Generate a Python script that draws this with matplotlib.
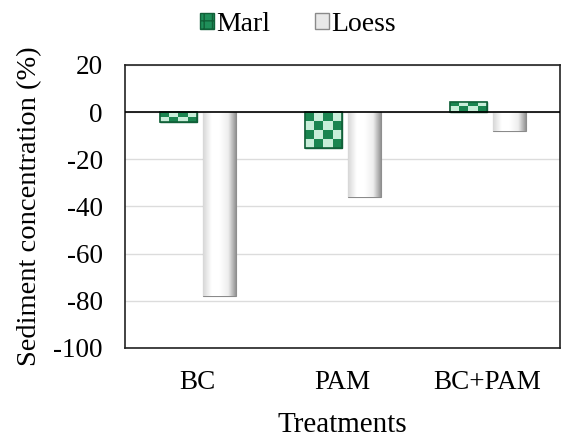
import numpy as np
import matplotlib
matplotlib.use('Agg')
import matplotlib.pyplot as plt
from matplotlib.patches import Rectangle
from matplotlib.colors import ListedColormap, LinearSegmentedColormap

plt.rcParams['font.family'] = ['Liberation Serif', 'DejaVu Serif']
plt.rcParams['axes.unicode_minus'] = False

treatments = ['BC', 'PAM', 'BC+PAM']
marl = [-4, -15, 4.5]
loess = [-78, -36, -8]
yticks = [20, 0, -20, -40, -60, -80, -100]

fig = plt.figure(figsize=(5.62, 4.43), dpi=100)
ax = fig.add_axes([125/562, 1-348/443, 435/562, 283/443])

x = np.arange(len(treatments))
b1 = ax.bar(x - 0.13, marl, 0.255, color='#1f8f5a', edgecolor='#106038', linewidth=1.0, zorder=3)
b2 = ax.bar(x + 0.15, loess, 0.23, color='white', edgecolor='#8a8a8a', linewidth=0.8, zorder=3)

# checker pattern on the marl bars (about 4 cells across)
cmap_chk = ListedColormap(['#1a8550', '#c8eed9'])
for r in b1:
    x0, y0 = r.get_x(), r.get_y()
    h, ww = r.get_height(), r.get_width()
    ny = max(2, int(round(abs(h) / 3.8)))
    chk = np.indices((ny, 4)).sum(axis=0) % 2
    im = ax.imshow(chk, cmap=cmap_chk, extent=[x0, x0 + ww, min(y0, y0 + h), max(y0, y0 + h)],
                   aspect='auto', zorder=3.5, interpolation='nearest')
    im.set_clip_path(r)
    ax.add_patch(Rectangle((x0, y0), ww, h, fill=False, edgecolor='#106038', linewidth=1.2, zorder=3.6))

# shaded look on the loess bars
grad = np.linspace(0, 1, 50)[None, :]
cmap_g = LinearSegmentedColormap.from_list('g', ['#d8d8d8', '#ffffff', '#ffffff', '#eeeeee', '#8c8c8c'])
for r in b2:
    x0, ww = r.get_x(), r.get_width()
    im = ax.imshow(grad, cmap=cmap_g, extent=[x0, x0 + ww, -100, 20], aspect='auto', zorder=3.5)
    im.set_clip_path(r)

ax.set_xlim(-0.5, 2.5)
ax.set_ylim(-100, 20)
ax.set_yticks(yticks)
ax.set_xticks(x)
ax.set_xticklabels(treatments)
ax.tick_params(length=0, labelsize=19.5)
ax.tick_params(axis='y', pad=16)
ax.tick_params(axis='x', pad=16)
ax.yaxis.grid(True, color='#dcdcdc', linewidth=1, zorder=0)
ax.set_axisbelow(True)
ax.axhline(0, color='black', linewidth=1.2, zorder=4)
for s in ax.spines.values():
    s.set_linewidth(1.2)
    s.set_color('#222222')

ax.set_ylabel('Sediment concentration (%)', fontsize=20.5, labelpad=8)
ax.set_xlabel('Treatments', fontsize=21, labelpad=12)

h1 = Rectangle((0, 0), 1, 1, facecolor='#1f8f5a', edgecolor='#106038', hatch='++')
h2 = Rectangle((0, 0), 1, 1, facecolor='#e8e8e8', edgecolor='#8a8a8a')
fig.legend([h1, h2], ['Marl', 'Loess'], loc='upper center', bbox_to_anchor=(0.53, 1.03),
           ncol=2, frameon=False, fontsize=20, handlelength=0.5, handleheight=0.5,
           handletextpad=0.1, columnspacing=1.6)

fig.savefig('out.png', dpi=100)
